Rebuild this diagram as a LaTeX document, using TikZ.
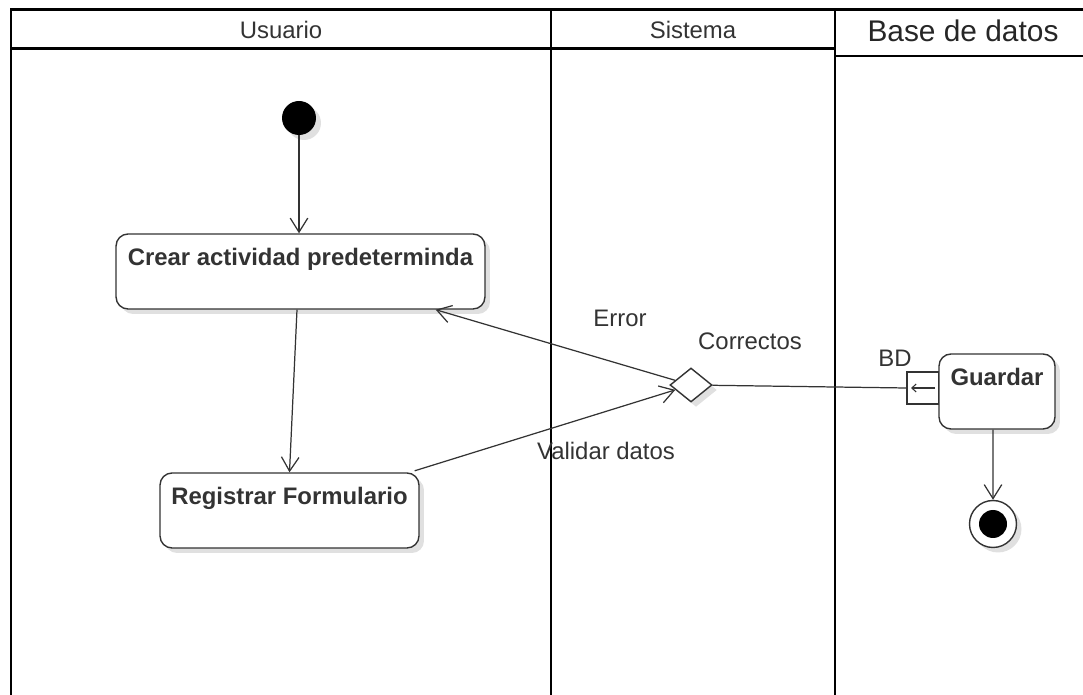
\documentclass[tikz,border=0pt]{standalone}
\usepackage{fontspec}
\setmainfont{Liberation Sans}
\usetikzlibrary{arrows.meta,shapes.geometric,shadows}

\definecolor{ink}{HTML}{333333}

\begin{document}
\begin{tikzpicture}[x=.02cm,y=-.02cm,
    lane/.style={line width=1.7pt,line cap=rect},
    shade/.style={drop shadow={shadow xshift=.1cm,shadow yshift=-.1cm,opacity=.12,fill=black}},
    act/.style={draw=ink,line width=.8pt,rounded corners=.24cm,fill=white,shade,
      minimum width=#1,minimum height=1.5cm,inner sep=0pt,
      text height=.64cm,text depth=.86cm,text=ink,
      font=\fontsize{13.6}{16}\selectfont\bfseries},
    inicio/.style={circle,fill=black,minimum size=.68cm,inner sep=0pt,shade},
    fin/.style={circle,draw=ink,line width=.8pt,fill=white,minimum size=.94cm,inner sep=0pt,shade,
      path picture={\fill[black] (path picture bounding box.center) circle (.28cm);}},
    decision/.style={diamond,draw=ink,line width=.8pt,fill=white,shade,
      minimum width=.84cm,minimum height=.68cm,inner sep=0pt},
    entrada/.style={rectangle,draw=ink,line width=.8pt,fill=white,minimum size=.64cm,inner sep=0pt},
    flow/.style={draw=ink,line width=.7pt,-{Straight Barb[length=8pt,width=10pt]}},
    lbl/.style={text=ink,inner sep=0pt,anchor=base,font=\fontsize{13.6}{16}\selectfont}]
  \useasboundingbox (0,0) rectangle (1083,695);

  % calles
  \draw[lane] (1100,10) -- (11,10) -- (11,710);
  \draw[lane] (551,10) -- (551,710);
  \draw[lane] (835,10) -- (835,710);
  \draw[lane] (11,49) -- (835,49);
  \draw[lane,line width=1.3pt] (835,56) -- (1100,56);
  \foreach \x/\lab in {281/Usuario,693/Sistema}
    \node[lbl] at (\x,39) {\lab};
  \node[lbl,text=black!85,font=\fontsize{17}{20}\selectfont] (base) at (963,42) {Base de datos};

  % actividades
  \node[inicio] (inicio) at (299,118) {};
  \node[act=7.38cm] (crear) at (300.5,271.5) {Crear actividad predeterminda};
  \node[act=5.18cm] (reg) at (289.5,510.5) {Registrar Formulario};
  \node[decision] (dec) at (691,385) {};
  \node[entrada] (bd) at (923,388) {};
  \node[act=2.32cm] (guardar) at (997,391.5) {Guardar};
  \node[fin] (fin) at (993,524) {};

  % flujos
  \draw[flow] (inicio) -- (inicio |- crear.north);
  \draw[flow] ([xshift=-.07cm]crear.south) -- (reg.north);
  \draw[flow] ([xshift=-.1cm,yshift=.03cm]reg.north east) -- (dec);
  \draw[flow] (dec) -- ([xshift=-1cm]crear.south east);
  \draw[draw=ink,line width=.7pt] (dec) -- (bd.west);
  \draw[draw=ink,line width=.6pt,-{Straight Barb[length=2.5pt,width=4.5pt]}]
    ([xshift=.24cm]bd.center) -- ([xshift=-.24cm]bd.center);
  \draw[flow] ([xshift=-.08cm]guardar.south) -- (fin);

  \node[lbl] (err) at (620,327) {Error};
  \node[lbl] (ok) at (750,350) {Correctos};
  \node[lbl] (val) at (606,460) {Validar datos};
  \node[lbl] (bdl) at (895,367) {BD};
\end{tikzpicture}
\end{document}
